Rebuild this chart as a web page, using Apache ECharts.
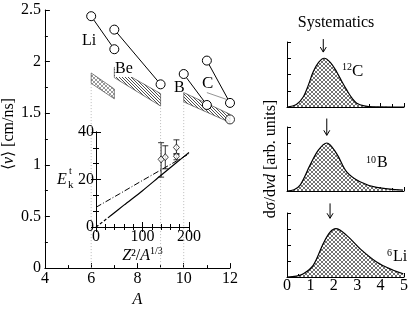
<!DOCTYPE html>
<html><head><meta charset="utf-8">
<script src="https://cdn.jsdelivr.net/npm/echarts@6/dist/echarts.min.js"></script>
<style>html,body{margin:0;padding:0;background:#fff}#c{width:415px;height:313px}</style>
</head><body><div id="c"></div><script>
const F = 'Liberation Serif';
// ---- main panel data ----
const liPts = [[6, 2.44], [7, 2.12]];
const bePts = [[7, 2.31], [9, 1.78]];
const bPts = [[10, 1.88], [11, 1.58]];
const cPts = [[11, 2.01], [12, 1.60]];
const extraPt = [[12, 1.44]];
const cGuide = [[11.0, 1.70], [11.9, 1.63]];
const liBand = [[6, 1.79, 1.89], [7, 1.64, 1.735]];
const beBand = [[7, 1.845, 1.945], [9, 1.57, 1.69]];
const bcBand = [[10, 1.61, 1.70], [12, 1.41, 1.49]];
const dropLines = [[6, 1.79], [9, 1.57], [10, 1.61]];
// ---- inset data ----
const insetDashed = [[0, 0], [30, 4.5]];
const insetSolid = [[30, 4.5], [60, 9.2], [100, 15.3], [140, 21.8], [170, 26.6], [200, 31.4]];
const insetDashDot = [[0, 8.3], [50, 13.9], [100, 19.6], [150, 25.2], [200, 30.8]];
const insetPts = [[140, 28.5, 21.0, 35.5], [149, 29.4, 24.5, 34.2], [173, 33.5, 30.6, 36.7], [173, 29.8, 28.3, 30.9]];
// ---- right panels data ----
const c12 = [[0, 0], [0.4, 0.15], [0.7, 0.63], [0.9, 1.3], [1.12, 2.17], [1.35, 2.75], [1.59, 3.0], [1.85, 2.75], [2.12, 2.17], [2.35, 1.55], [2.55, 1.05], [2.8, 0.5], [2.98, 0.23], [3.3, 0.07], [3.7, 0.01], [5, 0]];
const b10 = [[0, 0], [0.3, 0.08], [0.56, 0.37], [0.98, 1.6], [1.34, 2.55], [1.70, 3.0], [2.12, 2.34], [2.55, 1.2], [3.12, 0.58], [3.83, 0.23], [4.96, 0.06]];
const li6 = [[0, 0], [0.4, 0.05], [0.7, 0.2], [1.12, 0.73], [1.55, 2.09], [1.84, 2.8], [2.09, 3.02], [2.55, 2.6], [3.12, 1.77], [3.83, 0.94], [4.54, 0.42], [4.97, 0.2]];
const arrowsC = [[1.55, 4.18, 3.38]];
const arrowsB = [[1.70, 4.53, 3.48]];
const arrowsLi = [[1.84, 4.6, 3.67]];

function pattern(kind, size, color, lw) {
  const c = document.createElement('canvas'); c.width = c.height = size;
  const g = c.getContext('2d'); g.fillStyle = '#fff'; g.fillRect(0, 0, size, size);
  g.strokeStyle = color; g.lineWidth = lw; g.beginPath();
  if (kind.indexOf('\\') >= 0) { for (const o of [-size, 0, size]) { g.moveTo(o, 0); g.lineTo(o + size, size); } }
  if (kind.indexOf('/') >= 0) { for (const o of [-size, 0, size]) { g.moveTo(o + size, 0); g.lineTo(o, size); } }
  g.stroke();
  return { image: c, repeat: 'repeat' };
}
const crossPat = pattern('\\/', 4, '#333', 0.7);
const liPat = pattern('\\/', 4, '#555', 0.6);
const diagPat = pattern('\\', 3, '#222', 0.8);

const lbl = (extra) => Object.assign({ fontFamily: F, fontSize: 16, color: '#000' }, extra || {});
const line = { show: true, lineStyle: { color: '#000', width: 1 } };
function ax(o) {
  return Object.assign({
    axisLine: line,
    axisTick: { show: true, inside: true, length: 5, lineStyle: { color: '#000' } },
    minorTick: { show: true, length: 3, lineStyle: { color: '#000' } },
    splitLine: { show: false }, minorSplitLine: { show: false },
    axisLabel: lbl({ margin: 3 })
  }, o);
}
const richBase = {
  a: { fontFamily: F, fontSize: 16, color: '#000' },
  i: { fontFamily: F, fontSize: 16, fontStyle: 'italic', color: '#000' },
  s: { fontFamily: F, fontSize: 10, color: '#000', padding: [0, 0, 9, 0] }
};

function bandSeries(band, pat) {
  return {
    type: 'custom', xAxisIndex: 0, yAxisIndex: 0, data: band, z: 2, silent: true,
    renderItem(params, api) {
      if (params.dataIndex !== 0) return null;
      const top = band.map(r => api.coord([r[0], r[2]]));
      const bot = band.slice().reverse().map(r => api.coord([r[0], r[1]]));
      return { type: 'polygon', shape: { points: top.concat(bot) }, style: { fill: pat, stroke: '#333', lineWidth: 0.6 } };
    }
  };
}
function ptLine(data) {
  return {
    type: 'line', xAxisIndex: 0, yAxisIndex: 0, data, symbol: 'circle', symbolSize: 9, z: 5,
    lineStyle: { color: '#000', width: 1 }, itemStyle: { color: '#fff', borderColor: '#000', borderWidth: 1 }, silent: true
  };
}
function arrowSeries(data, idx) {
  return {
    type: 'custom', xAxisIndex: 3 + idx, yAxisIndex: 3 + idx, data, z: 6, silent: true,
    renderItem(params, api) {
      const p0 = api.coord([api.value(0), api.value(1)]);
      const p1 = api.coord([api.value(0), api.value(2)]);
      return {
        type: 'group', children: [
          { type: 'line', shape: { x1: p0[0], y1: p0[1], x2: p1[0], y2: p1[1] }, style: { stroke: '#000', lineWidth: 1 } },
          { type: 'polyline', shape: { points: [[p1[0] - 3, p1[1] - 5], [p1[0], p1[1]], [p1[0] + 3, p1[1] - 5]] }, style: { stroke: '#000', lineWidth: 1, fill: null } }
        ]
      };
    }
  };
}
function curve(data, idx) {
  return {
    type: 'line', xAxisIndex: 3 + idx, yAxisIndex: 3 + idx, data, smooth: 0.35, symbol: 'none', silent: true,
    lineStyle: { color: '#000', width: 1.2 }, areaStyle: { color: crossPat, opacity: 1 }
  };
}
function txt(text, x, y, size, extra) {
  return { type: 'text', z: 100, zlevel: 1, style: Object.assign({ text, x, y, font: size + 'px "Liberation Serif"', fill: '#000', textVerticalAlign: 'middle', verticalAlign: 'middle' }, extra || {}) };
}

const chart = echarts.init(document.getElementById('c'), null, { renderer: 'canvas' });
const rightX = (gi, labels) => ax({
  type: 'value', gridIndex: gi, min: 0, max: 5, interval: 1, minorTick: { show: true, splitNumber: 2, length: 3, lineStyle: { color: '#000' } },
  axisTick: { show: true, inside: true, length: 4, lineStyle: { color: '#000' } },
  axisLabel: lbl({ show: labels, margin: 1 })
});
const rightY = (gi, extra) => ax(Object.assign({
  type: 'value', gridIndex: gi, min: 0, max: 4, interval: 1, minorTick: { show: false },
  axisTick: { show: true, inside: true, length: 4, lineStyle: { color: '#000' } },
  axisLabel: { show: false }
}, extra || {}));

chart.setOption({
  animation: false,
  backgroundColor: '#fff',
  grid: [
    { left: 42, top: 10, width: 188, height: 267 },
    { left: 96, top: 132, width: 93, height: 95 },
    { left: 287, top: 42, width: 117, height: 65 },
    { left: 287, top: 127, width: 117, height: 64 },
    { left: 287, top: 213, width: 117, height: 64 }
  ],
  xAxis: [
    ax({ type: 'value', gridIndex: 0, min: 4, max: 12, interval: 2, minorTick: { show: true, splitNumber: 2, length: 3, lineStyle: { color: '#000' } },
      name: 'A', nameLocation: 'middle', nameGap: 17, nameTextStyle: lbl({ fontStyle: 'italic' }) }),
    ax({ type: 'value', gridIndex: 1, min: 0, max: 200, interval: 100, minorTick: { show: true, splitNumber: 5, length: 3, lineStyle: { color: '#000' } },
      axisLabel: lbl({ margin: 2 }),
      name: '{i|Z}{a|²/}{i|A}{s|1/3}', nameLocation: 'middle', nameGap: 14, nameTextStyle: { rich: richBase } }),
    ax({ type: 'value', gridIndex: 1, position: 'top', min: 0, max: 200, interval: 100, minorTick: { show: true, splitNumber: 5, length: 3, lineStyle: { color: '#000' } },
      axisLabel: { show: false } }),
    rightX(2, false), rightX(3, false), rightX(4, true)
  ],
  yAxis: [
    ax({ type: 'value', gridIndex: 0, min: 0, max: 2.5, interval: 0.5, minorTick: { show: true, splitNumber: 2, length: 3, lineStyle: { color: '#000' } },
      axisLabel: lbl({ margin: 4 }),
      name: '{a|⟨}{i|v}{a|⟩ [cm/ns]}', nameLocation: 'middle', nameRotate: 90, nameGap: 21, nameTextStyle: { rich: richBase, padding: [0, 0, 0, 10] } }),
    ax({ type: 'value', gridIndex: 1, min: 0, max: 40, interval: 20, minorTick: { show: true, splitNumber: 3, length: 3, lineStyle: { color: '#000' } },
      axisLabel: lbl({ margin: 2 }) }),
    ax({ type: 'value', gridIndex: 1, position: 'right', min: 0, max: 40, interval: 20, minorTick: { show: true, splitNumber: 3, length: 3, lineStyle: { color: '#000' } },
      axisLabel: { show: false } }),
    rightY(2),
    rightY(3, { name: '{a|dσ/d}{i|vd}{a| [arb. units]}', nameLocation: 'middle', nameRotate: 90, nameGap: 8, nameTextStyle: { rich: richBase } }),
    rightY(4)
  ],
  graphic: [
    txt('Systematics', 336, 23, 16, { textAlign: 'center', align: 'center' }),
    txt('Li', 82, 41, 16),
    txt('Be', 115, 69, 16, { backgroundColor: '#fff' }),
    txt('B', 174, 88, 16),
    txt('C', 202, 84, 17),
    txt('E', 57, 180, 16, { font: 'italic 16px "Liberation Serif"' }),
    txt('t', 69, 171, 10),
    txt('k', 68, 185, 11),
    txt('12', 342, 67, 10),
    txt('C', 352, 72, 17),
    txt('10', 366, 160, 10),
    txt('B', 377, 163, 16),
    txt('6', 387, 253, 10),
    txt('Li', 393, 257, 16)
  ],
  series: [
    {
      type: 'custom', xAxisIndex: 0, yAxisIndex: 0, data: dropLines, z: 1, silent: true,
      renderItem(params, api) {
        const p0 = api.coord([api.value(0), 0]), p1 = api.coord([api.value(0), api.value(1)]);
        return { type: 'line', shape: { x1: p0[0], y1: p0[1], x2: p1[0], y2: p1[1] }, style: { stroke: '#bbb', lineWidth: 1, lineDash: [1, 2] } };
      }
    },
    bandSeries(liBand, liPat), bandSeries(beBand, diagPat), bandSeries(bcBand, diagPat),
    { type: 'line', xAxisIndex: 0, yAxisIndex: 0, data: cGuide, symbol: 'none', lineStyle: { color: '#777', width: 0.8 }, silent: true },
    ptLine(liPts), ptLine(bePts), ptLine(bPts), ptLine(cPts),
    { type: 'scatter', xAxisIndex: 0, yAxisIndex: 0, data: extraPt, symbol: 'circle', symbolSize: 9, z: 5, itemStyle: { color: '#fff', borderColor: '#000', borderWidth: 1 }, silent: true },
    { type: 'line', xAxisIndex: 1, yAxisIndex: 1, data: insetDashed, symbol: 'none', lineStyle: { color: '#000', width: 1.2, type: [3, 2] }, silent: true },
    { type: 'line', xAxisIndex: 1, yAxisIndex: 1, data: insetSolid, symbol: 'none', smooth: 0.3, lineStyle: { color: '#000', width: 1.2 }, silent: true },
    { type: 'line', xAxisIndex: 1, yAxisIndex: 1, data: insetDashDot, symbol: 'none', lineStyle: { color: '#000', width: 1, type: [6, 2, 1, 2] }, silent: true },
    {
      type: 'custom', xAxisIndex: 1, yAxisIndex: 1, data: insetPts, z: 5, silent: true,
      renderItem(params, api) {
        const lo = api.coord([api.value(0), api.value(2)]), hi = api.coord([api.value(0), api.value(3)]);
        const st = { stroke: '#000', lineWidth: 0.8 };
        return {
          type: 'group', children: [
            { type: 'line', shape: { x1: lo[0], y1: lo[1], x2: hi[0], y2: hi[1] }, style: st },
            { type: 'line', shape: { x1: lo[0] - 3, y1: lo[1], x2: lo[0] + 3, y2: lo[1] }, style: st },
            { type: 'line', shape: { x1: hi[0] - 3, y1: hi[1], x2: hi[0] + 3, y2: hi[1] }, style: st }
          ]
        };
      }
    },
    { type: 'scatter', xAxisIndex: 1, yAxisIndex: 1, data: insetPts.map(r => [r[0], r[1]]), symbol: 'diamond', symbolSize: [6, 7], z: 6, itemStyle: { color: '#fff', borderColor: '#000', borderWidth: 0.9 }, silent: true },
    curve(c12, 0), curve(b10, 1), curve(li6, 2),
    arrowSeries(arrowsC, 0), arrowSeries(arrowsB, 1), arrowSeries(arrowsLi, 2)
  ]
});
</script></body></html>
